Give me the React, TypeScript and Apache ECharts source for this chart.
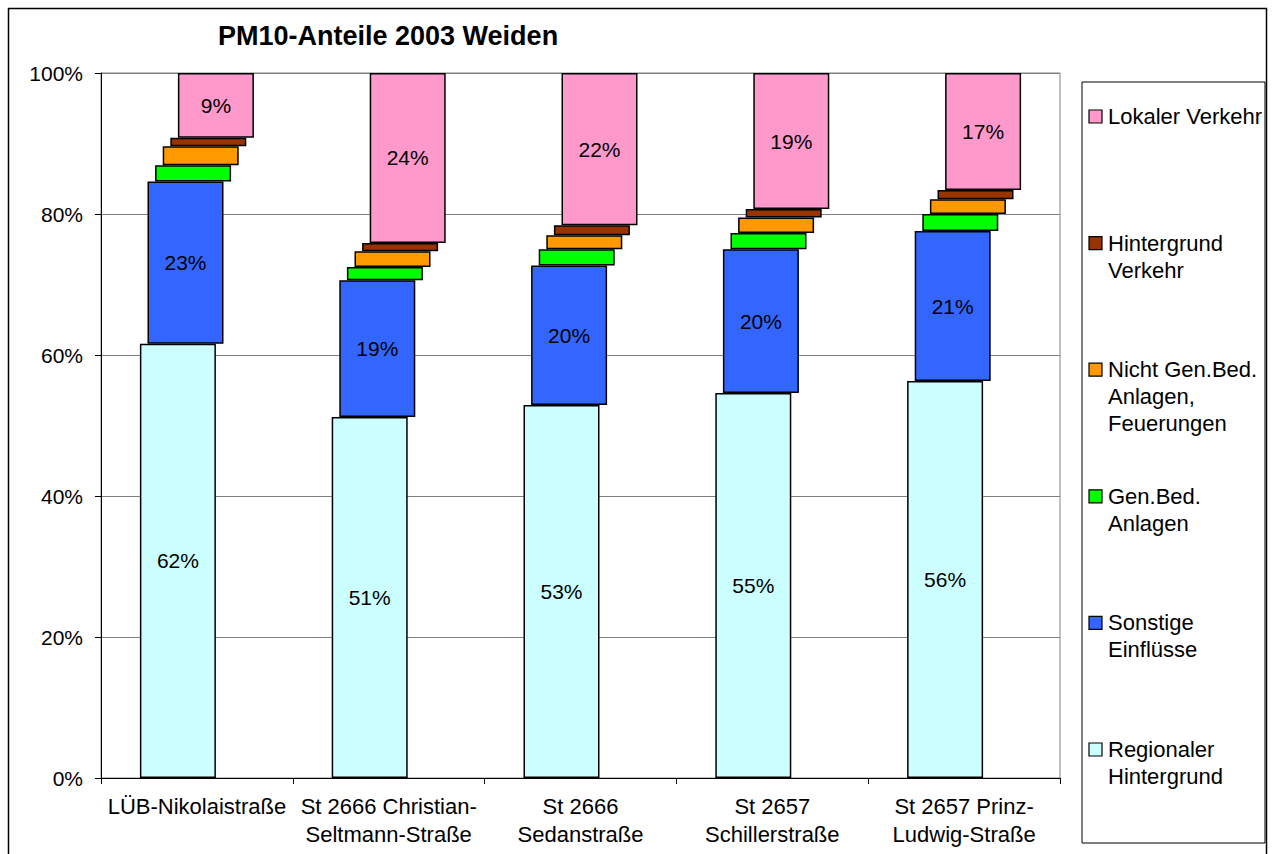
import React, { useEffect, useRef } from "react";
import * as echarts from "echarts";

const categories = [
  "LÜB-Nikolaistraße",
  "St 2666 Christian-\nSeltmann-Straße",
  "St 2666\nSedanstraße",
  "St 2657\nSchillerstraße",
  "St 2657 Prinz-\nLudwig-Straße",
];

const regionalerHintergrund = [61.6, 51.2, 52.9, 54.6, 56.3];
const sonstigeEinfluesse = [23.0, 19.4, 19.8, 20.4, 21.3];
const genBedAnlagen = [2.3, 1.9, 2.3, 2.3, 2.4];
const nichtGenBedAnlagen = [2.7, 2.2, 2.0, 2.2, 2.1];
const hintergrundVerkehr = [1.2, 1.2, 1.4, 1.2, 1.3];
const lokalerVerkehr = [9.2, 24.1, 21.6, 19.3, 16.6];

const yTicks = [0, 20, 40, 60, 80, 100];

const seriesNames = [
  "Regionaler Hintergrund",
  "Sonstige Einflüsse",
  "Gen.Bed. Anlagen",
  "Nicht Gen.Bed. Anlagen, Feuerungen",
  "Hintergrund Verkehr",
  "Lokaler Verkehr",
];
const legendLabels = [
  "Regionaler\nHintergrund",
  "Sonstige\nEinflüsse",
  "Gen.Bed.\nAnlagen",
  "Nicht Gen.Bed.\nAnlagen,\nFeuerungen",
  "Hintergrund\nVerkehr",
  "Lokaler Verkehr",
];
const seriesColors = ["#CCFFFF", "#3366FF", "#00FF00", "#FF9900", "#993300", "#FF99CC"];
const seriesLabelled = [true, true, false, false, false, true];

const FONT = "'Liberation Sans', Arial, Helvetica, sans-serif";

export default function App() {
  const ref = useRef<HTMLDivElement>(null);

  useEffect(() => {
    if (!ref.current) return;
    const chart = echarts.init(ref.current, null, { renderer: "svg" });

    const values = [
      regionalerHintergrund,
      sonstigeEinfluesse,
      genBedAnlagen,
      nichtGenBedAnlagen,
      hintergrundVerkehr,
      lokalerVerkehr,
    ];

    const series: any[] = [];
    let cum = categories.map(() => 0);
    values.forEach((vals, i) => {
      const common = {
        type: "bar",
        stack: "st" + i,
        barWidth: 76,
        barGap: "-90%",
        barCategoryGap: "40%",
      };
      if (i > 0) {
        series.push({
          ...common,
          name: seriesNames[i] + " (Basis)",
          data: cum.slice(),
          silent: true,
          itemStyle: { color: "transparent", borderWidth: 0 },
          emphasis: { disabled: true },
          label: { show: false },
        });
      }
      series.push({
        ...common,
        name: seriesNames[i],
        data: vals,
        itemStyle: { color: seriesColors[i], borderColor: "#000", borderWidth: 1.5 },
        emphasis: { disabled: true },
        label: {
          show: seriesLabelled[i],
          position: "inside",
          color: "#000",
          fontSize: 21,
          fontFamily: FONT,
          formatter: (p: any) => Math.round(p.value) + "%",
        },
      });
      cum = cum.map((c, j) => c + vals[j]);
    });

    // legend drawn as graphic (reverse order, top = Lokaler Verkehr)
    const legendItems: any[] = [];
    const order = [5, 4, 3, 2, 1, 0];
    order.forEach((si, k) => {
      const top = 110 + k * 126.6;
      legendItems.push({
        type: "rect",
        shape: { x: 1089, y: top, width: 13, height: 13 },
        style: { fill: seriesColors[si], stroke: "#000", lineWidth: 1.2 },
      });
      legendItems.push({
        type: "text",
        x: 1108,
        y: top - 7,
        style: {
          text: legendLabels[si],
          fill: "#000",
          font: `22px ${FONT}`,
          lineHeight: 27,
          verticalAlign: "top",
          align: "left",
        },
      });
    });

    chart.setOption({
      animation: false,
      backgroundColor: "#fff",
      title: {
        text: "PM10-Anteile 2003 Weiden",
        left: 218,
        top: 22,
        padding: 0,
        textStyle: { fontSize: 27, fontWeight: "bold", color: "#000", fontFamily: FONT },
      },
      grid: {
        left: 101,
        right: 213,
        top: 73,
        bottom: 76,
        show: true,
        borderColor: "#808080",
        borderWidth: 1,
        backgroundColor: "transparent",
        outerBoundsMode: "none",
      },
      xAxis: {
        type: "category",
        data: categories,
        axisLine: { show: true, lineStyle: { color: "#000", width: 1 } },
        axisTick: { show: true, length: 6, alignWithLabel: false, lineStyle: { color: "#000" } },
        axisLabel: {
          interval: 0,
          color: "#000",
          fontSize: 22,
          fontFamily: FONT,
          lineHeight: 28,
          margin: 14,
        },
      },
      yAxis: {
        type: "value",
        min: 0,
        max: 100,
        interval: 20,
        axisLine: { show: true, lineStyle: { color: "#000", width: 1 } },
        axisTick: { show: true, length: 6, lineStyle: { color: "#000" } },
        axisLabel: {
          color: "#000",
          fontSize: 21,
          fontFamily: FONT,
          margin: 18,
          formatter: (v: number) => (yTicks.includes(v) ? v + "%" : ""),
        },
        splitLine: { show: true, lineStyle: { color: "#808080", width: 1 } },
      },
      series,
      graphic: [
        {
          type: "rect",
          shape: { x: 8.5, y: 8.5, width: 1258, height: 900 },
          style: { fill: "none", stroke: "#000", lineWidth: 1.5 },
          silent: true,
        },
        {
          type: "rect",
          shape: { x: 1082, y: 82, width: 183, height: 761 },
          style: { fill: "#fff", stroke: "#000", lineWidth: 1 },
          silent: true,
        },
        ...legendItems,
      ],
    });

    return () => chart.dispose();
  }, []);

  return (
    <div
      ref={ref}
      style={{ position: "absolute", left: 0, top: 0, width: 1273, height: 854 }}
    />
  );
}
